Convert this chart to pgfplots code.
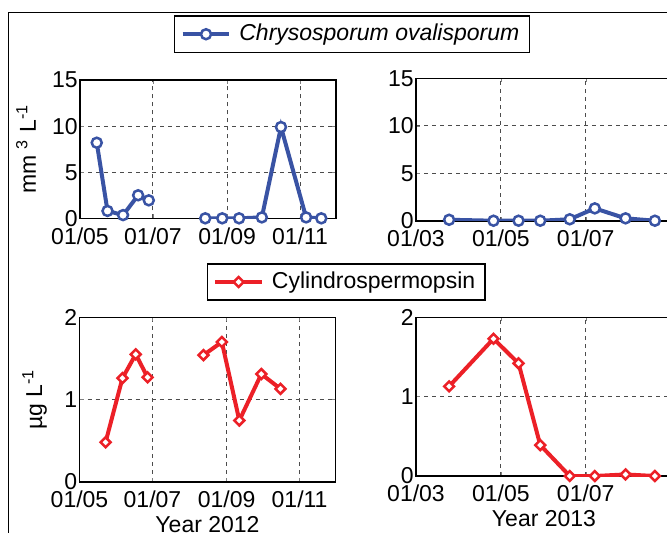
\documentclass[border=0pt]{standalone}
\usepackage{fontspec}
\setmainfont{Liberation Sans}
\usepackage{pgfplots}
\pgfplotsset{compat=1.18}

\definecolor{cblue}{RGB}{57,83,164}
\definecolor{cred}{RGB}{236,32,39}

\pgfplotsset{
  panel/.style={
    scale only axis,
    width=128pt,
    axis line style={line width=0.8pt},
    tick align=inside,
    major tick length=2pt,
    xmajorgrids, ymajorgrids,
    grid style={dash pattern=on 2pt off 2pt, line width=0.5pt, color=black!70},
    /pgf/number format/assume math mode=true,
    yticklabel style={inner xsep=1pt},
    xticklabel style={yshift=-0.5pt},
    legend cell align=left,
    legend style={draw=black, line width=0.75pt, fill=white,
      /tikz/every odd column/.append style={column sep=2pt}},
    legend image code/.code={
      \draw[mark repeat=2, mark phase=2, #1]
        plot coordinates {(0cm,0cm) (0.41cm,0cm) (0.82cm,0cm)};
    },
  },
  yr2012/.style={xmin=0, xmax=214, xtick={0,61,123,184},
    xticklabels={01/05,01/07,01/09,01/11}},
  yr2013/.style={xmin=0, xmax=184, xtick={0,61,122},
    xticklabels={01/03,01/05,01/07}},
  bio/.style={color=cblue, line width=2pt, mark=*, mark size=2.5pt,
    mark options={fill=white, line width=1.25pt, solid}},
  cyn/.style={color=cred, line width=2pt, mark=square*, mark size=1.75pt,
    mark options={fill=white, line width=1.25pt, solid, rotate=45}},
}

\begin{document}
\fontsize{11.5}{13.8}\selectfont
\begin{tikzpicture}
\useasboundingbox (0pt,0pt) rectangle (333.5pt,-266pt);
\clip (0pt,0pt) rectangle (333.5pt,-266pt);
\draw[line width=0.5pt] (4pt,-6pt) rectangle (400pt,-300pt);

% top left: biovolume 2012
\begin{axis}[panel, yr2012, at={(40pt,-109.15pt)}, height=69.15pt,
    ymin=0, ymax=15, ytick={0,5,10,15},
    ylabel={mm \textsuperscript{3} L\textsuperscript{-1}},
    ylabel style={at={(axis description cs:-0.172,0.5)}, anchor=base},
    legend style={at={(1.0625,1.331)}, anchor=center, font=\itshape}]
\addplot[bio] coordinates {
  (14,8.2) (23,0.8) (36,0.35) (48.6,2.5) (57.5,1.95)
};
\addlegendentry{Chrysosporum ovalisporum}
\addplot[bio, forget plot] coordinates {
  (104.7,0) (118.9,0) (133,0) (152,0.1) (168,9.9) (189,0.1) (201.7,0)
};
\end{axis}

% top right: biovolume 2013
\begin{axis}[panel, yr2013, at={(208pt,-110.35pt)}, height=71.2pt,
    ymin=0, ymax=15, ytick={0,5,10,15}]
\addplot[bio] coordinates {
  (23.8,0.1) (55.7,0) (73.7,0) (89.3,0) (110.5,0.15) (128.5,1.3) (150.6,0.25) (171.7,0)
};
\end{axis}

% bottom left: cylindrospermopsin 2012
\begin{axis}[panel, yr2012, at={(39.75pt,-240.85pt)}, height=82.2pt,
    ymin=0, ymax=2, ytick={0,1,2},
    ylabel={µg L\textsuperscript{-1}},
    ylabel style={at={(axis description cs:-0.146,0.5)}, anchor=base},
    xlabel={Year 2012},
    xlabel style={at={(axis description cs:0.5,0)}, anchor=base, yshift=-25.2pt},
    legend style={at={(1.042,1.215)}, anchor=center}]
\addplot[cyn] coordinates {
  (21.8,0.48) (35.9,1.26) (47,1.55) (56.9,1.27)
};
\addlegendentry{Cylindrospermopsin}
\addplot[cyn, forget plot] coordinates {
  (103.6,1.54) (119,1.70) (133.6,0.745) (152,1.31) (168,1.13)
};
\end{axis}

% bottom right: cylindrospermopsin 2013
\begin{axis}[panel, yr2013, at={(208pt,-238pt)}, height=79.35pt,
    ymin=0, ymax=2, ytick={0,1,2},
    xlabel={Year 2013},
    xlabel style={at={(axis description cs:0.5,0)}, anchor=base, yshift=-25.2pt}]
\addplot[cyn] coordinates {
  (23.8,1.13) (55.7,1.73) (73.7,1.42) (89.3,0.39) (110.5,0) (128.5,0) (150.6,0.02) (171.7,0)
};
\end{axis}
\end{tikzpicture}
\end{document}
